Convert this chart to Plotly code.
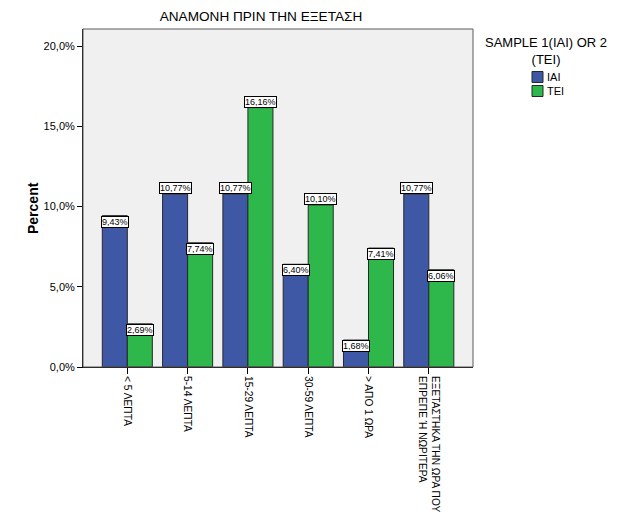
import plotly.graph_objects as go

categories = ['< 5 ΛΕΠΤΑ', '5-14 ΛΕΠΤΑ', '15-29 ΛΕΠΤΑ', '30-59 ΛΕΠΤΑ', '> ΑΠΟ 1 ΩΡΑ',
              'ΕΞΕΤΑΣΤΗΚΑ ΤΗΝ ΩΡΑ ΠΟΥ<br>ΕΠΡΕΠΕ Ή ΝΩΡΙΤΕΡΑ']
iai = [9.43, 10.77, 10.77, 6.40, 1.68, 10.77]
tei = [2.69, 7.74, 16.16, 10.10, 7.41, 6.06]
y_ticks = [0, 5, 10, 15, 20]
y_ticktext = ['0,0%', '5,0%', '10,0%', '15,0%', '20,0%']
series_names = ['IAI', 'TEI']

BLUE = 'rgb(62,88,166)'
GREEN = 'rgb(46,184,76)'
EDGE = 'rgb(40,40,40)'
FONT = 'Liberation Sans, Arial, sans-serif'

xs = list(range(len(categories)))

fig = go.Figure()
fig.add_trace(go.Bar(name=series_names[0], x=xs, y=iai, marker=dict(color=BLUE, line=dict(color=EDGE, width=1))))
fig.add_trace(go.Bar(name=series_names[1], x=xs, y=tei, marker=dict(color=GREEN, line=dict(color=EDGE, width=1))))

# screen pixel -> paper helpers (plot area on screen is 83..473 x 29..367)
def px(v):
    return (v - 83) / 390.0

def py(v):
    return (367 - v) / 338.0

# value labels in white boxes, SPSS style
bar_w = (1 - 0.17) / 2
annotations = []
for vals, off in [(iai, -bar_w / 2), (tei, bar_w / 2)]:
    for i, v in enumerate(vals):
        annotations.append(dict(
            x=i + off, y=v, xref='x', yref='y',
            text=('%.2f' % v).replace('.', ',') + '%',
            showarrow=False, yanchor='bottom' if v >= 10 else 'top',
            font=dict(size=9, color='black', family=FONT),
            bgcolor='white', bordercolor='black', borderwidth=1, borderpad=0,
        ))

# y axis title
annotations.append(dict(x=px(33), y=py(208), xref='paper', yref='paper', showarrow=False,
                        text='<b>Percent</b>', textangle=-90, xanchor='center', yanchor='middle',
                        font=dict(size=14, color='black', family=FONT)))

# legend drawn by hand so it sits like the SPSS one
annotations.append(dict(
    x=px(546), y=py(51), xref='paper', yref='paper', showarrow=False,
    text='SAMPLE 1(IAI) OR 2<br>(TEI)', align='center', xanchor='center', yanchor='middle',
    font=dict(size=13, color='black', family=FONT),
))
shapes = [dict(type='rect', xref='paper', yref='paper', x0=0, x1=1, y0=0, y1=1,
               line=dict(color='rgb(90,90,90)', width=1), fillcolor='rgba(0,0,0,0)')]
for name, col, yc in [(series_names[0], BLUE, 77), (series_names[1], GREEN, 91)]:
    shapes.append(dict(type='rect', xref='paper', yref='paper',
                       x0=px(532), x1=px(543), y0=py(yc + 5.5), y1=py(yc - 5.5),
                       line=dict(color=EDGE, width=1), fillcolor=col))
    annotations.append(dict(x=px(545), y=py(yc), xref='paper', yref='paper', showarrow=False,
                            text=name, xanchor='left', yanchor='middle',
                            font=dict(size=11, color='black', family=FONT)))

# page body has an 8px margin, so the figure is shifted by 8px
fig.update_layout(
    width=623, height=512,
    margin=dict(l=75, r=158, t=21, b=153),
    paper_bgcolor='white',
    plot_bgcolor='rgb(240,240,240)',
    barmode='group', bargap=0.17, bargroupgap=0,
    font=dict(family=FONT, color='black', size=11),
    title=dict(text='ΑΝΑΜΟΝΗ ΠΡΙΝ ΤΗΝ ΕΞΕΤΑΣΗ', x=px(261), xref='paper', xanchor='center',
               y=1 - 8 / 512, yanchor='middle', font=dict(size=13.6, color='black', family=FONT)),
    showlegend=False,
    annotations=annotations,
    shapes=shapes,
)

fig.update_xaxes(
    range=[-0.735, 5.733], tickmode='array', tickvals=xs, ticktext=categories,
    tickangle=90, ticks='outside', ticklen=6, tickcolor='black', automargin=False,
    showline=True, linecolor='black', linewidth=1, showgrid=False, zeroline=False,
    tickfont=dict(size=10.2, color='black'),
)
fig.update_yaxes(
    range=[0, 21.06], tickmode='array', tickvals=y_ticks, ticktext=y_ticktext,
    ticks='outside', ticklen=5, tickcolor='black', automargin=False,
    showline=True, linecolor='black', linewidth=1, showgrid=False, zeroline=False,
    tickfont=dict(size=11, color='black'),
)

fig.write_html('out.html')
